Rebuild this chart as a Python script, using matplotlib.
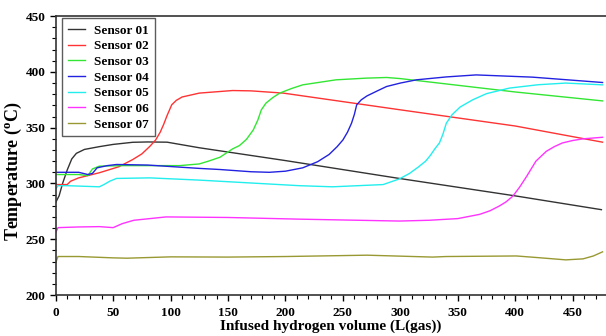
import numpy as np
import matplotlib
matplotlib.use("Agg")
import matplotlib.pyplot as plt
from matplotlib.ticker import MultipleLocator

# values: (volume, temperature)
s01_x = [0, 3, 6, 10, 14, 18, 25, 38, 50, 67, 80, 97, 125, 200, 299, 401, 475]
s01_y = [283, 289, 300, 312, 322, 327, 330.5, 333, 335, 336.9, 337.2, 337, 332, 320.5, 304.5, 288.7, 276.5]

s02_x = [0, 10, 13, 20, 38, 55, 67, 75, 82, 87, 91, 94, 97, 101, 105, 110, 125, 154, 170, 198, 300, 400, 476]
s02_y = [299, 299, 302, 305, 309.6, 315, 321.4, 326.5, 333.3, 339, 346, 353, 361, 370.5, 374.5, 377.5, 381, 383.3, 383, 381, 366, 351.5, 337]

s03_x = [0, 20, 28, 32, 38, 60, 108, 125, 133, 143, 154, 160, 166, 172, 176, 179, 183, 189, 195, 205, 215, 244, 270, 288, 300, 350, 400, 476]
s03_y = [308, 308, 307, 313, 315.5, 316, 316, 317.5, 320, 323.5, 331, 334, 339.5, 348, 357, 366, 372, 377, 381, 385, 388.4, 392.9, 394.4, 395, 394, 388, 382, 374]

s04_x = [0, 20, 28, 32, 36, 45, 53, 80, 125, 143, 170, 186, 200, 215, 228, 238, 245, 250, 254, 257.5, 260, 262, 266, 271, 280, 288, 300, 314, 340, 366, 415, 476]
s04_y = [310, 310, 308, 309, 314, 316, 317, 316.5, 313.5, 312.5, 310.5, 310, 311, 314, 319.5, 326, 333, 339, 346, 354, 362, 370.5, 375, 378.5, 383, 386.9, 390, 392.9, 395.5, 397.3, 395.3, 390.5]

s05_x = [0, 2, 10, 38, 42, 47, 53, 82, 125, 212, 241, 285, 299, 308, 316, 322, 326, 330, 334, 337, 340, 345, 352, 363, 375, 395, 420, 444, 476]
s05_y = [295, 298, 298, 297, 299, 302, 304.5, 305, 303, 298, 297, 299, 304, 309, 315, 320, 325, 331, 336.3, 344, 354, 361.6, 368.5, 375, 380.5, 385.5, 388.5, 390, 388.4]

s06_x = [0, 2, 20, 38, 50, 58, 68, 96, 150, 212, 299, 325, 350, 369, 378, 386, 392, 398, 404, 410, 418, 427, 434, 441, 450, 459, 476]
s06_y = [256, 260.4, 261, 261.3, 260.4, 264, 267, 270, 269.5, 268, 266.3, 267, 268.5, 272.3, 275.5, 279.7, 283.5, 288.7, 297, 306.5, 320, 328.8, 333, 336.3, 338.5, 340, 341.4]

s07_x = [0, 2, 20, 50, 62, 100, 150, 200, 271, 328, 340, 401, 420, 444, 459, 468, 476]
s07_y = [229, 234.5, 234.5, 233.3, 233, 234.2, 234, 234.5, 235.7, 234, 234.5, 235, 233.5, 231.5, 232.4, 235, 238.7]

labels = ["Sensor 01", "Sensor 02", "Sensor 03", "Sensor 04",
          "Sensor 05", "Sensor 06", "Sensor 07"]
colors = ["#333333", "#ff3333", "#33e633", "#2222e0",
          "#22eeee", "#ff33ff", "#999933"]

plt.rcParams["font.family"] = ["Liberation Serif", "DejaVu Serif"]
plt.rcParams["font.weight"] = "bold"
plt.rcParams["mathtext.fontset"] = "custom"
plt.rcParams["mathtext.rm"] = "Liberation Serif:bold"

fig = plt.figure(figsize=(6.06, 3.36), dpi=100)
ax = fig.add_axes([0.0919, 0.122, 0.9081, 0.83])

series = [(s01_x, s01_y), (s02_x, s02_y), (s03_x, s03_y), (s04_x, s04_y),
          (s05_x, s05_y), (s06_x, s06_y), (s07_x, s07_y)]
for (x, y), lab, c in zip(series, labels, colors):
    ax.plot(x, y, color=c, lw=1.0, label=lab)

ax.set_xlim(0, 479)
ax.set_ylim(200, 450)
ax.xaxis.set_major_locator(MultipleLocator(50))
ax.xaxis.set_minor_locator(MultipleLocator(10))
ax.yaxis.set_major_locator(MultipleLocator(50))
ax.yaxis.set_minor_locator(MultipleLocator(10))
ax.tick_params(which="major", direction="out", length=4.5, width=1,
               labelsize=9.5, top=False, right=False)
ax.tick_params(axis="x", which="major", pad=4)
ax.tick_params(axis="y", which="major", pad=3)
ax.tick_params(which="minor", direction="out", length=3, width=0.8,
               top=False, right=False)
for lab in ax.get_xticklabels() + ax.get_yticklabels():
    lab.set_fontweight("bold")

ax.spines["right"].set_visible(False)
for sp in ["left", "bottom", "top"]:
    ax.spines[sp].set_color("#333333")
    ax.spines[sp].set_linewidth(1.2)

ax.set_xlabel("Infused hydrogen volume (L(gas))", fontsize=11,
              fontweight="bold")
ax.xaxis.set_label_coords(0.5005, -0.088)
ax.set_ylabel("Temperature ($\\mathrm{^o}$C)", fontsize=13,
              fontweight="bold")
ax.yaxis.set_label_coords(-0.058, 0.443)

leg = ax.legend(loc="upper left", bbox_to_anchor=(0.011, 0.992),
                borderaxespad=0, fontsize=9.5, frameon=True, fancybox=False,
                edgecolor="#333333", handlelength=1.35, labelspacing=0.26,
                borderpad=0.45, handletextpad=0.65)
leg.get_frame().set_linewidth(1.0)
for t in leg.get_texts():
    t.set_fontweight("bold")

fig.savefig("out.png", dpi=100)
